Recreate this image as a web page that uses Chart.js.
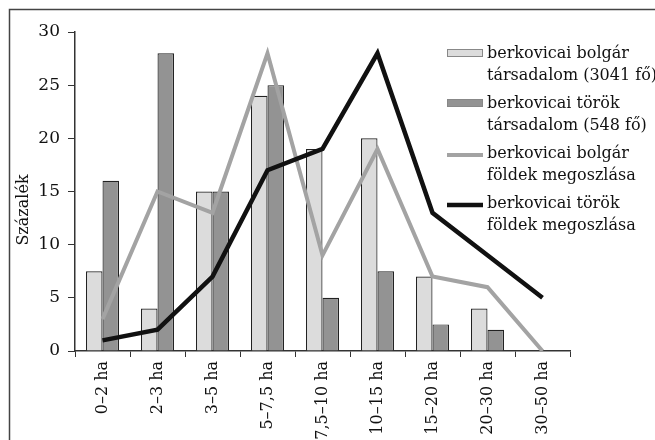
<!DOCTYPE html>
<html>
<head>
<meta charset="utf-8">
<script src="https://cdn.jsdelivr.net/npm/chart.js@4"></script>
<style>
  body { margin: 0; background: #fff; }
  #wrap { width: 655px; height: 440px; }
</style>
</head>
<body>
<div id="wrap"><canvas id="c" width="655" height="440"></canvas></div>
<script>
const categories = ["0–2 ha", "2–3 ha", "3–5 ha", "5–7,5 ha", "7,5–10 ha", "10–15 ha", "15–20 ha", "20–30 ha", "30–50 ha"];
const bolgarSociety = [7.5, 4, 15, 24, 19, 20, 7, 4, 0];
const torokSociety = [16, 28, 15, 25, 5, 7.5, 2.5, 2, 0];
const bolgarLand = [3, 15, 13, 28, 9, 19, 7, 6, 0];
const torokLand = [1, 2, 7, 17, 19, 28, 13, 9, 5];
const yTicks = [0, 5, 10, 15, 20, 25, 30];
const legendLines = [
    ["berkovicai bolgár", "társadalom (3041 fő)"],
    ["berkovicai török", "társadalom (548 fő)"],
    ["berkovicai bolgár", "földek megoszlása"],
    ["berkovicai török", "földek megoszlása"]
];
const yTitle = "Százalék";

const FONT = "'DejaVu Serif', serif";

// frame, y title and the two-line legend are drawn by hand
const extras = {
    id: 'extras',
    beforeDraw(chart) {
        const ctx = chart.ctx;
        ctx.save();
        ctx.strokeStyle = '#444';
        ctx.lineWidth = 1.5;
        ctx.strokeRect(9.5, 9.5, 660, 450);
        ctx.restore();
    },
    afterDraw(chart) {
        const ctx = chart.ctx;
        ctx.save();
        // y title
        ctx.font = "16px " + FONT;
        ctx.fillStyle = '#111';
        ctx.textAlign = 'center';
        ctx.textBaseline = 'middle';
        ctx.translate(24, 210);
        ctx.rotate(-Math.PI / 2);
        ctx.fillText(yTitle, 0, 0);
        ctx.restore();

        // legend
        ctx.save();
        const x0 = 447, sw = 36, tx = 487;
        chart.data.datasets.forEach((ds, i) => {
            const rowY = 54 + i * 50;
            if (ds.type === 'line') {
                ctx.strokeStyle = ds.borderColor;
                ctx.lineWidth = ds.borderWidth;
                ctx.beginPath();
                ctx.moveTo(x0, rowY + 1);
                ctx.lineTo(x0 + sw, rowY + 1);
                ctx.stroke();
            } else {
                ctx.fillStyle = ds.backgroundColor;
                ctx.fillRect(x0, rowY - 5, sw, 8);
                ctx.strokeStyle = '#888';
                ctx.lineWidth = 1;
                ctx.strokeRect(x0 + 0.5, rowY - 4.5, sw - 1, 7);
            }
            ctx.font = "16px " + FONT;
            ctx.fillStyle = '#111';
            ctx.textAlign = 'left';
            ctx.textBaseline = 'middle';
            legendLines[i].forEach((t, k) => ctx.fillText(t, tx, rowY + k * 22));
        });
        ctx.restore();
    }
};

new Chart(document.getElementById('c'), {
    data: {
        labels: categories,
        datasets: [
            { type: 'bar', label: legendLines[0].join(' '), data: bolgarSociety, backgroundColor: '#dcdcdc', borderColor: '#222', borderWidth: 1.2, order: 2 },
            { type: 'bar', label: legendLines[1].join(' '), data: torokSociety, backgroundColor: '#939393', borderColor: '#222', borderWidth: 1.2, order: 2 },
            { type: 'line', label: legendLines[2].join(' '), data: bolgarLand, borderColor: '#a3a3a3', borderWidth: 4, pointRadius: 0, tension: 0, order: 1 },
            { type: 'line', label: legendLines[3].join(' '), data: torokLand, borderColor: '#111', borderWidth: 4.5, pointRadius: 0, tension: 0, order: 0 }
        ]
    },
    options: {
        responsive: false,
        animation: false,
        datasets: { bar: { categoryPercentage: 0.6, barPercentage: 1.0 } },
        layout: { padding: { left: 0, top: 32, right: 85, bottom: 0 } },
        plugins: { legend: { display: false }, tooltip: { enabled: false } },
        scales: {
            x: {
                offset: true,
                grid: { display: true, offset: true, drawOnChartArea: false, drawTicks: true, tickLength: 6, color: '#333', lineWidth: 1 },
                border: { display: true, color: '#333', width: 1.5 },
                ticks: { minRotation: 90, maxRotation: 90, padding: 4, color: '#111', font: { family: FONT, size: 16 } },
                afterFit: s => { s.height = 89; }
            },
            y: {
                min: 0, max: 30,
                afterBuildTicks: s => { s.ticks = yTicks.map(v => ({ value: v })); },
                grid: { display: true, drawOnChartArea: false, drawTicks: true, tickLength: 7, color: '#333' },
                border: { display: true, color: '#333', width: 1.5 },
                ticks: { padding: 8, color: '#111', font: { family: FONT, size: 17 } },
                afterFit: s => { s.width = 75; }
            }
        }
    },
    plugins: [extras]
});
</script>
</body>
</html>
